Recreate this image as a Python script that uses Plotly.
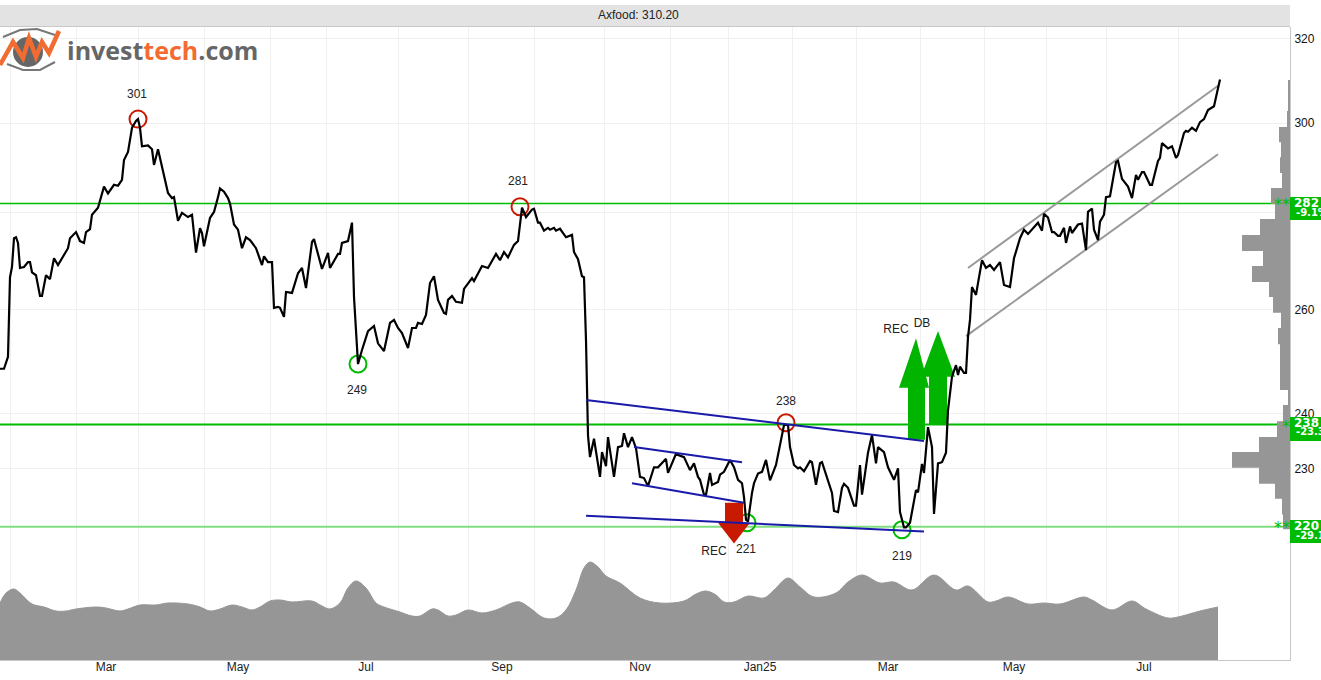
import plotly.graph_objects as go

# (day, close), axis runs about 2 px per calendar day
close_points = [
    (0,248.4),(2,248.4),(4,250.7),(5,266.5),(6,268.6),(7,274.6),(8,274.8),(9,273.6),(10,268.4),(12,268.6),
    (14,269.6),(15,269.6),(16,267.5),(18,266.9),(20,262.7),(21,262.7),(23,266.9),(25,266.1),(27,270.4),(29,269.0),
    (34,272.5),(35,274.6),(38,275.9),(40,274.0),(42,273.6),(43,275.9),(45,276.5),(46,279.6),(49,281.1),(51,284.3),
    (52,285.7),(54,284.2),(57,286.1),(59,285.9),(61,287.2),(62,291.6),(64,293.4),(66,298.9),(68,300.5),(69,300.9),
    (70,298.9),(71,294.7),(74,294.9),(76,294.0),(77,290.5),(79,294.0),(82,287.9),(84,284.3),(86,283.2),(87,283.4),
    (89,278.3),(91,280.0),(94,279.1),(96,279.6),(98,271.6),(100,276.7),(101,275.7),(102,272.9),(105,278.9),(107,280.2),
    (109,283.4),(110,285.3),(112,284.6),(114,283.2),(115,282.0),(117,277.5),(119,276.4),(121,272.5),(123,274.8),(125,274.2),
    (128,272.5),(131,269.0),(132,270.8),(134,269.6),(136,269.6),(137,260.3),(139,260.5),(140,260.3),(142,258.5),(143,263.5),
    (146,263.3),(149,267.3),(151,268.4),(153,264.3),(156,273.8),(157,274.4),(161,268.2),(164,271.5),(165,268.4),(169,271.3),
    (170,271.3),(171,273.6),(174,274.0),(176,277.9),(177,262.5),(179,249.3),(181,252.0),(184,255.7),(187,256.7),(189,253.3),
    (192,251.8),(195,257.3),(197,257.9),(199,256.3),(201,255.3),(204,252.4),(206,256.3),(208,256.3),(209,257.3),(211,257.1),
    (213,258.9),(215,265.3),(217,266.7),(219,261.9),(222,259.3),(223,259.1),(224,261.9),(226,262.7),(228,261.5),(231,261.3),
    (232,264.1),(236,266.3),(237,265.7),(241,268.8),(244,268.4),(248,271.3),(250,270.0),(252,271.7),(254,270.6),(257,273.2),
    (259,274.0),(261,281.1),(263,279.1),(264,279.6),(266,280.7),(267,280.9),(269,277.9),(270,277.9),(272,276.2),(274,276.8),
    (275,276.4),(277,276.8),(278,276.2),(280,276.6),(283,274.8),(286,275.3),(287,271.7),(289,270.2),(291,266.7),(292,266.5),
    (293,253.9),(294,236.0),(295,232.1),(297,235.4),(300,228.6),(301,233.0),(303,230.5),(304,235.7),(307,228.6),(309,233.9),
    (311,234.1),(312,236.4),(314,233.9),(316,235.7),(318,233.7),(320,228.6),(322,228.4),(324,227.0),(327,230.3),(329,230.3),
    (333,231.8),(334,229.3),(338,232.7),(339,232.5),(342,232.1),(345,229.8),(347,231.0),(349,228.6),(350,228.1),(352,225.5),
    (353,225.5),(355,229.3),(356,227.2),(359,227.7),(360,229.0),(362,229.5),(365,231.6),(367,230.3),(369,228.1),(371,227.5),
    (372,225.1),(373,221.2),(374,220.9),(376,225.8),(377,227.5),(379,229.2),(381,229.5),(383,231.6),(385,228.0),(388,230.7),
    (392,237.9),(394,237.9),(395,233.9),(397,230.7),(399,230.1),(400,230.3),(402,229.6),(405,231.4),(406,231.2),(408,227.2),
    (410,231.0),(411,231.2),(416,225.8),(417,222.7),(419,222.5),(421,226.7),(422,227.4),(424,226.7),(427,223.6),(428,223.6),
    (430,230.7),(431,225.5),(434,232.9),(436,236.1),(438,231.0),(439,233.9),(442,233.0),(444,230.3),(447,228.1),(449,230.1),
    (450,222.5),(452,219.9),(453,219.9),(455,220.7),(458,226.3),(459,225.9),(461,230.9),(462,229.3),(464,237.5),(466,233.9),
    (467,222.2),(469,231.0),(471,231.2),(473,232.9),(474,240.6),(476,246.9),(478,249.1),(479,247.2),(480,248.8),(482,247.6),
    (483,247.6),(484,254.5),(485,257.9),(486,264.5),(488,262.9),(489,265.3),(491,270.0),(493,268.4),(495,269.0),(497,268.0),
    (500,269.6),(502,264.9),(505,264.5),(507,270.4),(508,271.7),(510,274.6),(512,276.4),(514,275.5),(519,277.9),(521,276.2),
    (522,279.8),(524,279.0),(526,275.9),(527,275.9),(529,275.1),(530,275.1),(532,276.8),(533,273.6),(535,277.1),(536,275.7),
    (539,277.5),(541,277.7),(543,272.1),(544,280.2),(546,280.9),(547,276.4),(549,274.2),(550,278.1),(552,279.6),(553,283.4),
    (555,283.6),(557,288.3),(558,291.1),(559,291.4),(561,287.4),(564,285.7),(566,283.2),(568,288.3),(569,287.2),(571,288.9),
    (572,288.9),(575,286.1),(576,286.1),(579,291.4),(580,292.1),(581,295.4),(584,294.2),(586,294.7),(588,292.1),(589,292.7),
    (592,297.7),(593,298.2),(594,298.0),(596,298.9),(598,298.2),(600,300.2),(602,300.9),(604,303.0),(607,303.9),(609,308.1),
    (610,310.2),
]

# (day, volume) smoothed volume area
volume_points = [
    (0,57),(3,67),(7,71),(10,67),(16,56),(22,53),(28,49),(33,49),(38,51),(48,53),(53,52),(60,49),(64,51),(70,55),
    (78,55),(84,57),(94,56),(100,53),(105,49),(110,51),(116,55),(121,53),(126,50),(130,53),(135,59),(140,60),(146,58),
    (156,59),(161,54),(165,51),(170,57),(174,72),(178,79),(183,72),(188,57),(192,53),(200,48),(206,44),(210,44),(216,51),
    (219,50),(224,44),(228,45),(234,50),(241,47),(248,50),(256,57),(260,58),(265,52),(272,42),(278,42),(283,50),(288,70),
    (292,92),(295,98),(299,93),(303,84),(310,77),(320,62),(330,57),(342,59),(348,66),(353,69),(358,65),(362,58),(367,58),
    (374,64),(382,62),(387,70),(394,82),(400,73),(407,63),(418,67),(424,78),(431,85),(440,77),(447,78),(456,70),(467,85),
    (478,70),(484,74),(494,58),(498,59),(504,63),(514,56),(522,57),(530,56),(542,63),(546,60),(556,50),(566,59),(573,51),
    (584,42),(589,43),(600,49),(609,53),
]

# price distribution on the right edge: band edges and bar lengths
profile_edges = [310.1, 302.8, 299.1, 295.6, 292.2, 288.7, 285.4, 281.9, 278.7, 275.3, 271.9, 268.8, 265.5, 262.5,
                 259.3, 256.3, 253.1, 244.4, 241.6, 238.6, 235.7, 233.0, 230.2, 227.4, 224.8, 222.1, 219.6]
profile_sizes = [2, 3, 11, 9, 10, 8, 19, 15, 30, 48, 27, 38, 21, 17, 9, 12, 10, 2, 7, 13, 31, 58, 31, 15, 8, 7]

# month grid and labels
month_starts = [5, 38, 69, 102, 135, 163, 199, 234, 267, 302, 335, 364, 396, 428, 460, 492, 523, 553, 589]
month_label_days = [53, 119, 183, 251, 320, 380, 444, 507, 572]
month_labels = ["Mar", "May", "Jul", "Sep", "Nov", "Jan25", "Mar", "May", "Jul"]
price_ticks = [320, 300, 280, 260, 240, 230, 220]
price_tick_text = ["320", "300", "", "260", "240", "230", ""]

# support and resistance levels
levels = [282, 238, 220]
level_changes = ["-9.1%", "-23.3%", "-29.1%"]
level_stars = ["**", "*", "**"]
level_colors = ["#00bb00", "#00bb00", "#80dd80"]
level_widths = [1.5, 2, 2]

# trend lines: (day from, day to, price from, price to)
blue_lines = [(293, 462, 242.5, 235.0), (293, 462, 221.9, 219.2), (317, 371, 233.9, 231.2), (316, 372, 227.5, 224.1)]
grey_lines = [(484, 609, 268.4, 308.7), (483, 609, 254.7, 292.9)]

# tops and bottoms with their labels
top_days = [69, 260, 393]
top_prices = [300.9, 281.3, 238.3]
bottom_days = [179, 373.5, 451]
bottom_prices = [249.3, 220.7, 219.5]
note_days = [68.5, 259, 178.5, 393, 373, 451, 357, 448, 461]
note_prices = [306.5, 286.7, 244.2, 242.2, 216.1, 215.0, 215.8, 255.9, 257.0]
note_texts = ["301", "281", "249", "238", "221", "219", "REC", "REC", "DB"]

# signal arrows
rec_up_days = [458, 464.5, 462.5, 462.5, 454, 454, 449.5]
rec_up_prices = [254.3, 244.8, 244.8, 235.2, 235.2, 244.8, 244.8]
db_up_days = [469, 477.5, 473.5, 473.5, 464.5, 464.5, 460.5]
db_up_prices = [255.7, 246.9, 246.9, 237.9, 237.9, 246.9, 246.9]
rec_down_days = [362.5, 371.5, 371.5, 375, 367, 359, 362.5]
rec_down_prices = [224.1, 224.1, 220.7, 220.7, 217.2, 220.7, 220.7]

GREEN = "#00b400"
RED = "#c81a00"
BLUE = "#1a1aaa"
GREY = "#969696"
TEXT_FONT = dict(family="Liberation Sans", size=12, color="#222222")

days, close = zip(*close_points)
volume_days, volume = zip(*volume_points)

fig = go.Figure()

for level, color, width in zip(levels, level_colors, level_widths):
    fig.add_trace(go.Scatter(x=[0, 645], y=[level, level], mode="lines", line=dict(color=color, width=width)))

fig.add_trace(go.Scatter(x=top_days, y=top_prices, mode="markers",
                         marker=dict(symbol="circle-open", size=17, color=RED, line=dict(width=2))))
fig.add_trace(go.Scatter(x=bottom_days, y=bottom_prices, mode="markers",
                         marker=dict(symbol="circle-open", size=17, color="#00bb00", line=dict(width=2))))

for arrow_x, arrow_y, color in [(rec_up_days, rec_up_prices, GREEN), (db_up_days, db_up_prices, GREEN),
                                (rec_down_days, rec_down_prices, RED)]:
    fig.add_trace(go.Scatter(x=arrow_x, y=arrow_y, mode="lines", fill="toself", fillcolor=color,
                             line=dict(color=color, width=0)))

for d0, d1, p0, p1 in grey_lines:
    fig.add_trace(go.Scatter(x=[d0, d1], y=[p0, p1], mode="lines", line=dict(color="#999999", width=2)))

fig.add_trace(go.Scatter(x=days, y=close, mode="lines", line=dict(color="black", width=2.2)))

for d0, d1, p0, p1 in blue_lines:
    fig.add_trace(go.Scatter(x=[d0, d1], y=[p0, p1], mode="lines", line=dict(color=BLUE, width=2)))

fig.add_trace(go.Scatter(x=note_days, y=note_prices, mode="text", text=note_texts, textfont=TEXT_FONT,
                         textposition="middle center"))

# volume area on its own axes
fig.add_trace(go.Scatter(x=volume_days, y=volume, xaxis="x2", yaxis="y2", mode="lines", fill="tozeroy",
                         fillcolor=GREY, line=dict(color=GREY, width=1, shape="spline", smoothing=1)))

# price distribution steps, bars grow leftward from the right axis
profile_x = [0]
profile_y = [profile_edges[0]]
for i, size in enumerate(profile_sizes):
    profile_x += [size, size]
    profile_y += [profile_edges[i], profile_edges[i + 1]]
profile_x.append(0)
profile_y.append(profile_edges[-1])
fig.add_trace(go.Scatter(x=profile_x, y=profile_y, xaxis="x3", mode="lines", fill="toself", fillcolor=GREY,
                         line=dict(color=GREY, width=0)))


# pixel helpers for the page furniture (title bar, badges, logo)
def px_x(x):
    return x / 1290


def px_y(y):
    return 1 - (y - 27) / 633


def rect(x0, y0, x1, y1, color):
    return dict(type="rect", xref="paper", yref="paper", x0=px_x(x0), x1=px_x(x1), y0=px_y(y0), y1=px_y(y1),
                fillcolor=color, line=dict(width=0), layer="above")


def note(x, y, text, font, anchor="left"):
    return dict(xref="paper", yref="paper", x=px_x(x), y=px_y(y), text=text, showarrow=False, font=font,
                xanchor=anchor, yanchor="middle", borderpad=0, borderwidth=0)


def path(points, color, width):
    d = "M " + " L ".join(f"{px_x(a)} {px_y(b)}" for a, b in points)
    return dict(type="path", xref="paper", yref="paper", path=d, line=dict(color=color, width=width), layer="above")


shapes = [rect(0, 5, 1290, 26, "#e3e3e3"), rect(0, 26, 1290, 27, "#c8c8c8")]
annotations = [note(638, 15, "Axfood: 310.20", TEXT_FONT, "center")]

# level badges on the right axis
badge_tops = [197, 417, 520]
badge_bottoms = [220, 441, 543]
star_rows = [204, 426, 527]
for i, level in enumerate(levels):
    shapes.append(rect(1290, badge_tops[i], 1321, badge_bottoms[i], "#00bb00"))
    annotations.append(note(1294, badge_tops[i] + 6, str(level),
                            dict(family="DejaVu Sans", size=12, color="white", weight="bold")))
    annotations.append(note(1296, badge_tops[i] + 15, level_changes[i],
                            dict(family="DejaVu Sans", size=10, color="white", weight="bold")))
    annotations.append(note(1290, star_rows[i], level_stars[i],
                            dict(family="DejaVu Sans", size=16, color="#00bb00"), "right"))

# logo
shapes.append(dict(type="circle", xref="paper", yref="paper", x0=px_x(13), x1=px_x(43), y0=px_y(37), y1=px_y(67),
                   fillcolor="#666666", line=dict(width=0), layer="above"))
shapes.append(path([(3, 37), (20, 30), (37, 29), (55, 35)], "#777777", 2))
shapes.append(path([(7, 64), (23, 70), (40, 70), (55, 62)], "#777777", 2))
shapes.append(path([(0, 65), (13, 42), (23, 58), (29, 38), (36, 57), (42, 42), (49, 53), (59, 31)], "#f26b30", 4.5))
annotations.append(note(67, 50,
                        '<b>invest<span style="color:#f26b30">tech</span>.com</b>',
                        dict(family="Open Sans", size=25, color="#666666")))

fig.update_layout(
    width=1321, height=680,
    margin=dict(l=0, r=31, t=27, b=20),
    paper_bgcolor="white", plot_bgcolor="white",
    showlegend=False,
    shapes=shapes,
    annotations=annotations,
    xaxis=dict(range=[0, 645], tickvals=month_starts, showticklabels=False, ticks="",
               showgrid=True, gridcolor="#f0f0f0", gridwidth=1, zeroline=False,
               showline=True, linecolor="#c8c8c8", linewidth=1),
    yaxis=dict(type="log", range=[2.29801, 2.50915], side="right", tickvals=price_ticks, ticktext=price_tick_text,
               ticks="", tickfont=dict(family="Liberation Sans", size=12, color="#111111"), ticklabelstandoff=1,
               showgrid=True, gridcolor="#f0f0f0", gridwidth=1, zeroline=False,
               showline=True, linecolor="#c8c8c8", linewidth=1),
    xaxis2=dict(range=[0, 645], overlaying="x", anchor="y2", side="bottom", tickvals=month_label_days,
                ticktext=month_labels, tickfont=TEXT_FONT, ticks="", ticklabelstandoff=-2,
                showgrid=False, zeroline=False, showline=False),
    yaxis2=dict(range=[0, 633], overlaying="y", visible=False),
    xaxis3=dict(range=[1290, 0], overlaying="x", visible=False),
)

fig.write_html("out.html", config=dict(displayModeBar=False), post_script="document.body.style.margin='0'")
